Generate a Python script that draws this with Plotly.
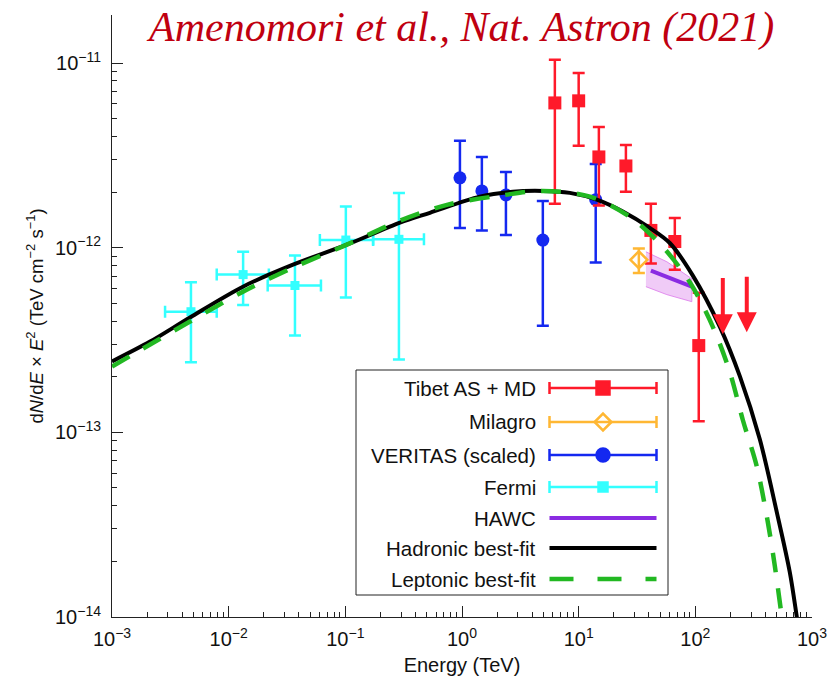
import numpy as np
import plotly.graph_objects as go

# ---------------- data ----------------
fermi_e = [4.75e-3, 0.0133, 0.037, 0.101, 0.288]
fermi_f = [4.5e-13, 7.15e-13, 6.24e-13, 1.10e-12, 1.11e-12]
fermi_e_lo = [2.85e-3, 7.9e-3, 0.0216, 0.0605, 0.173]
fermi_e_hi = [7.9e-3, 0.0221, 0.0618, 0.173, 0.472]
fermi_f_lo = [2.4e-13, 4.9e-13, 3.34e-13, 5.37e-13, 2.48e-13]
fermi_f_hi = [6.5e-13, 9.5e-13, 9.06e-13, 1.67e-12, 1.98e-12]

veritas_e = [0.96, 1.48, 2.38, 4.93, 14.0]
veritas_f = [2.39e-12, 2.03e-12, 1.93e-12, 1.10e-12, 1.82e-12]
veritas_f_lo = [1.28e-12, 1.24e-12, 1.17e-12, 3.78e-13, 8.3e-13]
veritas_f_hi = [3.79e-12, 3.1e-12, 2.57e-12, 1.79e-12, 2.84e-12]

tibet_e = [6.25, 10.0, 14.9, 25.4, 41.6, 66.7, 107]
tibet_f = [6.08e-12, 6.24e-12, 3.1e-12, 2.77e-12, 1.24e-12, 1.08e-12, 2.95e-13]
tibet_f_lo = [1.73e-12, 3.56e-12, 1.69e-12, 2.01e-12, 8.2e-13, 7.6e-13, 1.15e-13]
tibet_f_hi = [1.04e-11, 8.83e-12, 4.5e-12, 3.6e-12, 1.73e-12, 1.45e-12, 5.7e-13]
tibet_ul_e = [172, 276]
tibet_ul_f = [6.97e-13, 7.1e-13]
tibet_ul_tip = [3.40e-13, 3.48e-13]

milagro_e = [32.8]
milagro_f = [8.6e-13]
milagro_f_lo = [7.3e-13]
milagro_f_hi = [9.9e-13]

hawc_e = [41.6, 93.3]
hawc_f = [7.52e-13, 6.15e-13]
hawc_band_e = [37.7, 57.0, 93.3]
hawc_band_hi = [9.5e-13, 8.39e-13, 6.79e-13]
hawc_band_lo = [6.15e-13, 5.57e-13, 5.1e-13]

hadronic_e = [1e-3, 2.12e-3, 4.66e-3, 0.01326, 0.0356, 0.103, 0.294, 0.531, 1.42,
              2.73, 4.93, 8.41, 14.3, 23.9, 40.7, 60.4, 95.2, 162, 241, 357, 499,
              645, 741, 800]
hadronic_f = [2.42e-13, 3.10e-13, 4.19e-13, 6.15e-13, 8.09e-13, 1.038e-12, 1.365e-12,
              1.545e-12, 1.89e-12, 2.01e-12, 2.03e-12, 1.98e-12, 1.82e-12, 1.57e-12,
              1.28e-12, 1.06e-12, 7.06e-13, 3.74e-13, 2.01e-13, 9.17e-14, 3.70e-14,
              1.75e-14, 1.0e-14, 7.2e-15]

leptonic_e = [1e-3, 2.12e-3, 4.66e-3, 0.01326, 0.0356, 0.103, 0.294, 0.757, 2.33, 4.93,
              12.5, 27.5, 52.6, 89.7, 141, 198, 255, 336, 418, 480, 551, 600]
leptonic_f = [2.27e-13, 2.99e-13, 3.98e-13, 5.78e-13, 7.8e-13, 1.038e-12, 1.40e-12,
              1.71e-12, 1.93e-12, 2.03e-12, 1.89e-12, 1.47e-12, 1.01e-12, 6.5e-13,
              3.74e-13, 2.11e-13, 1.17e-13, 6.55e-14, 3.27e-14, 1.89e-14, 1.0e-14, 6.7e-15]

x_tick_vals = [1e-3, 1e-2, 1e-1, 1e0, 1e1, 1e2, 1e3]
x_tick_text = ["10<sup>−3</sup>", "10<sup>−2</sup>", "10<sup>−1</sup>", "10<sup>0</sup>",
               "10<sup>1</sup>", "10<sup>2</sup>", "10<sup>3</sup>"]
y_tick_vals = [1e-14, 1e-13, 1e-12, 1e-11]
y_tick_text = ["10<sup>−14</sup>", "10<sup>−13</sup>", "10<sup>−12</sup>", "10<sup>−11</sup>"]

legend_labels = ["Tibet AS + MD", "Milagro", "VERITAS (scaled)", "Fermi", "HAWC",
                 "Hadronic best-fit", "Leptonic best-fit"]

# ---------------- style ----------------
RED = "#ff1a2a"
ORANGE = "#ffb733"
BLUE = "#1428f0"
CYAN = "#33ffff"
PURPLE = "#8a2be2"
GREEN = "#22b822"
BLACK = "#000000"
FONT = "Liberation Sans, Arial, sans-serif"

FIG_W, FIG_H = 830, 679
M_L, M_R, M_T, M_B = 112, 18, 15, 62
PLOT_W = FIG_W - M_L - M_R
PLOT_H = FIG_H - M_T - M_B


def fx(px):
    return (px - M_L) / PLOT_W


def fy(py):
    return (FIG_H - M_B - py) / PLOT_H


def minus(v, lo):
    return [a - b for a, b in zip(v, lo)]


fig = go.Figure()

# HAWC band
fig.add_trace(go.Scatter(
    x=hawc_band_e + hawc_band_e[::-1],
    y=hawc_band_hi + hawc_band_lo[::-1],
    fill="toself", fillcolor="rgba(228,160,240,0.55)",
    line=dict(color="rgba(220,120,235,0.8)", width=1),
    mode="lines", showlegend=False, hoverinfo="skip"))

# Fermi
fig.add_trace(go.Scatter(
    x=fermi_e, y=fermi_f, mode="markers",
    marker=dict(symbol="square", size=9, color=CYAN),
    error_x=dict(type="data", symmetric=False, array=minus(fermi_e_hi, fermi_e),
                 arrayminus=minus(fermi_e, fermi_e_lo), color=CYAN, thickness=2.5, width=6),
    error_y=dict(type="data", symmetric=False, array=minus(fermi_f_hi, fermi_f),
                 arrayminus=minus(fermi_f, fermi_f_lo), color=CYAN, thickness=2.5, width=6),
    showlegend=False))

# VERITAS
fig.add_trace(go.Scatter(
    x=veritas_e, y=veritas_f, mode="markers",
    marker=dict(symbol="circle", size=13, color=BLUE),
    error_y=dict(type="data", symmetric=False, array=minus(veritas_f_hi, veritas_f),
                 arrayminus=minus(veritas_f, veritas_f_lo), color=BLUE, thickness=2.5, width=6),
    showlegend=False))

# Tibet
fig.add_trace(go.Scatter(
    x=tibet_e, y=tibet_f, mode="markers",
    marker=dict(symbol="square", size=13, color=RED),
    error_y=dict(type="data", symmetric=False, array=minus(tibet_f_hi, tibet_f),
                 arrayminus=minus(tibet_f, tibet_f_lo), color=RED, thickness=2.5, width=6),
    showlegend=False))

# Milagro
fig.add_trace(go.Scatter(
    x=milagro_e, y=milagro_f, mode="markers",
    marker=dict(symbol="diamond-open", size=13, color=ORANGE, line=dict(width=2.5, color=ORANGE)),
    error_y=dict(type="data", symmetric=False, array=minus(milagro_f_hi, milagro_f),
                 arrayminus=minus(milagro_f, milagro_f_lo), color=ORANGE, thickness=2.5, width=6),
    showlegend=False))

# HAWC line
fig.add_trace(go.Scatter(x=hawc_e, y=hawc_f, mode="lines",
                         line=dict(color=PURPLE, width=4), showlegend=False))

# model curves
fig.add_trace(go.Scatter(x=hadronic_e, y=hadronic_f, mode="lines",
                         line=dict(color=BLACK, width=4, shape="spline", smoothing=0.9),
                         showlegend=False))
fig.add_trace(go.Scatter(x=leptonic_e, y=leptonic_f, mode="lines",
                         line=dict(color=GREEN, width=4.5, dash="20px,16px", shape="spline",
                                   smoothing=0.9),
                         showlegend=False))

# upper-limit arrows
for e, f, t in zip(tibet_ul_e, tibet_ul_f, tibet_ul_tip):
    fig.add_annotation(x=np.log10(e), y=np.log10(t), ax=np.log10(e), ay=np.log10(f),
                       xref="x", yref="y", axref="x", ayref="y", text="",
                       showarrow=True, arrowhead=2, arrowsize=1.0, arrowwidth=4,
                       arrowcolor=RED, standoff=0)

# ---------------- manual legend (overlay axes in fraction units) ----------------
box = dict(x0=fx(356), x1=fx(668), y0=fy(595), y1=fy(370))
fig.add_shape(type="rect", xref="paper", yref="paper", **box,
              line=dict(color="#222", width=1), fillcolor="white", layer="below")

row_py = [388, 422, 455, 487, 518, 548, 579]
sym_cx = fx(603)
sym_half = 53.5 / PLOT_W
text_x = fx(538)

legend_styles = [
    dict(kind="err", symbol="square", size=13, color=RED),
    dict(kind="err", symbol="diamond-open", size=13, color=ORANGE),
    dict(kind="err", symbol="circle", size=13, color=BLUE),
    dict(kind="err", symbol="square", size=9, color=CYAN),
    dict(kind="line", color=PURPLE, width=4, dash="solid"),
    dict(kind="line", color=BLACK, width=4, dash="solid"),
    dict(kind="line", color=GREEN, width=4.5, dash="24px,24px"),
]

for label, py, st in zip(legend_labels, row_py, legend_styles):
    yy = fy(py)
    if st["kind"] == "err":
        fig.add_trace(go.Scatter(
            x=[sym_cx], y=[yy], xaxis="x2", yaxis="y2", mode="markers",
            marker=dict(symbol=st["symbol"], size=st["size"], color=st["color"],
                        line=dict(width=2.5, color=st["color"])),
            error_x=dict(type="data", array=[sym_half], color=st["color"],
                         thickness=2.5, width=6),
            showlegend=False, hoverinfo="skip"))
    else:
        fig.add_trace(go.Scatter(
            x=[sym_cx - sym_half, sym_cx + sym_half], y=[yy, yy], xaxis="x2", yaxis="y2",
            mode="lines", line=dict(color=st["color"], width=st["width"], dash=st["dash"]),
            showlegend=False, hoverinfo="skip"))
    fig.add_annotation(x=text_x, y=yy, xref="paper", yref="paper", text=label,
                       showarrow=False, xanchor="right", yanchor="middle",
                       font=dict(family=FONT, size=20.5, color="#111"))

# title annotation
fig.add_annotation(x=fx(460), y=fy(27), xref="paper", yref="paper",
                   text="<i>Amenomori et al., Nat. Astron (2021)</i>",
                   showarrow=False, xanchor="center", yanchor="middle",
                   font=dict(family="Liberation Serif, Times New Roman, serif", size=42,
                             color="#c00010"))

x_minor = [k * 10.0 ** n for n in range(-3, 3) for k in range(2, 10)]
y_minor = [k * 10.0 ** n for n in range(-14, -10) for k in range(2, 10)]

axis_common = dict(
    showline=True, linecolor="#222", linewidth=1, mirror=False,
    ticks="inside", ticklen=11, tickwidth=1, tickcolor="#222",
    showgrid=False, zeroline=False, automargin=False,
    tickfont=dict(family=FONT, size=20, color="#111"),
)

fig.update_layout(
    width=FIG_W, height=FIG_H,
    margin=dict(l=M_L, r=M_R, t=M_T, b=M_B),
    paper_bgcolor="white", plot_bgcolor="white",
    showlegend=False,
    xaxis=dict(type="log", range=[-3, 3], tickvals=x_tick_vals, ticktext=x_tick_text,
               minor=dict(tickvals=x_minor, ticks="inside", ticklen=5, tickcolor="#222",
                          tickwidth=1, showgrid=False),
               title=dict(text="Energy (TeV)", font=dict(family=FONT, size=20, color="#111"),
                          standoff=8),
               ticklabelstandoff=4,
               **axis_common),
    yaxis=dict(type="log", range=[-14, -10.74], tickvals=y_tick_vals, ticktext=y_tick_text,
               minor=dict(tickvals=y_minor, ticks="inside", ticklen=5, tickcolor="#222",
                          tickwidth=1, showgrid=False),
               title=dict(text="d<i>N</i>/d<i>E</i> × <i>E</i><sup>2</sup> (TeV cm<sup>−2</sup> s<sup>−1</sup>)",
                          font=dict(family=FONT, size=18.5, color="#111"), standoff=6),
               ticklabelstandoff=6,
               **axis_common),
    xaxis2=dict(overlaying="x", range=[0, 1], visible=False, fixedrange=True, automargin=False),
    yaxis2=dict(overlaying="y", range=[0, 1], visible=False, fixedrange=True, automargin=False),
)

fig.write_html("out.html")
